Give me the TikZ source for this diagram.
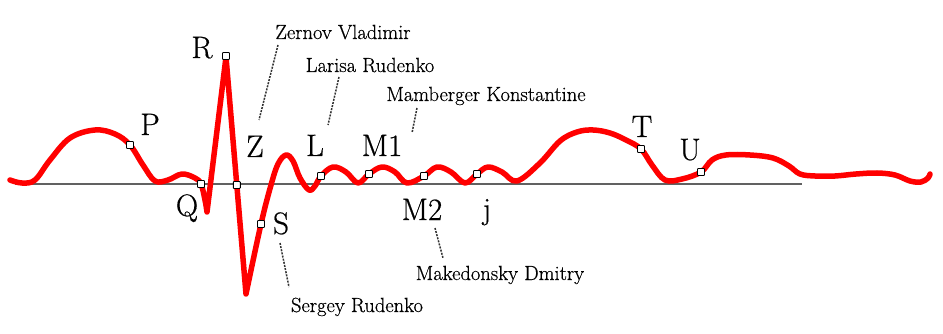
\documentclass[tikz,border=0pt]{standalone}
\usepackage{fontspec}
\newfontfamily\namefont{Latin Modern Roman}[FakeBold=0.5]
\newfontfamily\letterfont{Latin Modern Roman}[FakeBold=0.6]
\begin{document}
\begin{tikzpicture}[x=1pt,y=-1pt,
  wave/.style={draw=red, line width=5.5pt, line join=round, line cap=round},
  axisline/.style={draw=black!62, line width=1.4pt},
  pt/.style={draw=black, fill=white, rectangle, rounded corners=0.8pt, minimum size=7pt, inner sep=0pt, line width=0.9pt},
  lbl/.style={anchor=base, inner sep=0pt, font=\letterfont\fontsize{31}{34}\selectfont},
  nm/.style={anchor=base, inner sep=0pt, font=\namefont\fontsize{20.5}{24}\selectfont},
  lead/.style={draw=black!80, line width=1.5pt, dash pattern=on 2pt off 1.2pt}]
\fill[white] (0,0) rectangle (943,334);
\useasboundingbox (0,0) rectangle (943,334);

% baseline
\coordinate (b0) at (15,184);
\coordinate (b1) at (802,184);
\draw[axisline] (b0) -- (b1);

% ECG curve
\draw[wave] plot[smooth, tension=0.6] coordinates {
  (10,180) (22,183) (35,180) (50,160) (70,138) (95,130) (115,134) (130,145)
  (143,165) (155,181) (168,180) (182,174) (195,178) (201,184) (205,200) (207,212)}
  -- (226,57) -- (246,294)
  -- plot[smooth, tension=0.6] coordinates {
  (246,294) (261,224) (271,185) (278,164) (286,155) (293,161) (300,178) (309,190)
  (315,186) (321,176) (333,167) (346,172) (358,183) (369,174) (382,167) (395,172)
  (407,183) (424,176) (437,167) (451,172) (465,183) (477,174) (488,167) (502,172)
  (517,181) (540,163) (560,141) (577,132) (593,130) (610,133) (626,140) (641,149)
  (652,165) (665,180) (682,179) (701,172) (712,160) (726,155) (750,155) (773,158)
  (789,166) (800,174) (815,176) (835,176) (856,174) (877,173) (895,175) (910,181)
  (921,182) (928,178) (930,174)};

% markers
\node[pt] (mP) at (130,145) {};
\node[pt] (mQ) at (201,184) {};
\node[pt] (mR) at (226,56) {};
\node[pt] (mZ) at (236.8,185) {};
\node[pt] (mS) at (261,224) {};
\node[pt] (mL) at (321,176) {};
\node[pt] (mM1) at (369,174) {};
\node[pt] (mM2) at (424,176) {};
\node[pt] (mj) at (477,174) {};
\node[pt] (mT) at (641,149) {};
\node[pt] (mU) at (701,172) {};

% letters
\node[lbl] (P) at (150,135) {P};
\node[lbl] (R) at (202,58) {R};
\node[lbl] (Q) at (187,216) {Q};
\node[lbl] (Z) at (255,157) {Z};
\node[lbl] (S) at (281,234) {S};
\node[lbl] (L) at (315,156) {L};
\node[lbl] (M1) at (382,156) {M1};
\node[lbl] (M2) at (422,220) {M2};
\node[lbl] (j) at (487,219) {j};
\node[lbl] (T) at (642,137) {T};
\node[lbl] (U) at (690,160) {U};

% names
\node[nm] (zer) at (343,39) {Zernov Vladimir};
\node[nm] (lar) at (370,72) {Larisa Rudenko};
\node[nm] (mam) at (486,101) {Mamberger Konstantine};
\node[nm] (mak) at (500,280) {Makedonsky Dmitry};
\node[nm] (ser) at (357,312) {Sergey Rudenko};

% leaders
\coordinate (z1) at (278,45);  \coordinate (z2) at (259,120);
\coordinate (l1) at (339,77);  \coordinate (l2) at (328,125);
\coordinate (m1) at (417,108); \coordinate (m2) at (412,133);
\coordinate (k1) at (435,228); \coordinate (k2) at (443,258);
\coordinate (s1) at (280,243); \coordinate (s2) at (289,287);
\draw[lead] (z1) -- (z2);
\draw[lead] (l1) -- (l2);
\draw[lead] (m1) -- (m2);
\draw[lead] (k1) -- (k2);
\draw[lead] (s1) -- (s2);
\end{tikzpicture}
\end{document}
